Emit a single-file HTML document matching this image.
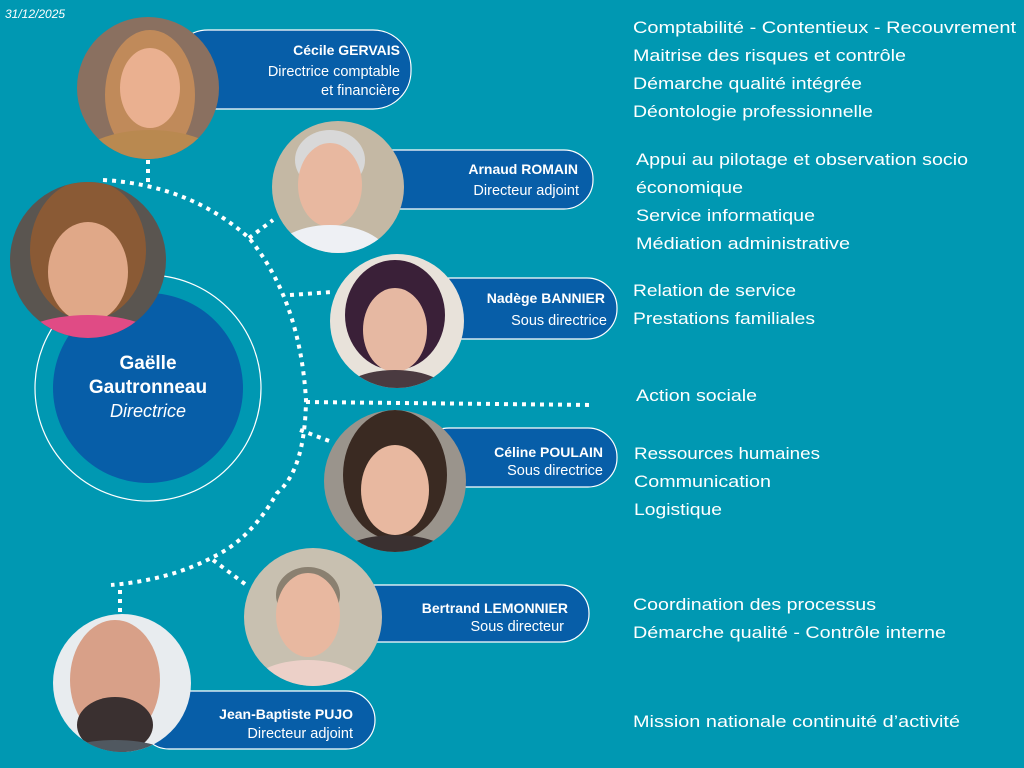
<!DOCTYPE html>
<html><head><meta charset="utf-8"><style>
html,body{margin:0;padding:0;background:#0098b2;}
svg{display:block;font-family:"Liberation Sans",sans-serif;}
.r{fill:#fff;font-size:17px;}
.n{fill:#fff;font-size:14px;font-weight:bold;}
.t{fill:#fff;font-size:14.5px;}
</style></head><body>
<svg width="1024" height="768" viewBox="0 0 1024 768" xmlns="http://www.w3.org/2000/svg">
<defs>
<clipPath id="c1"><circle cx="148" cy="88" r="71"/></clipPath>
<clipPath id="c2"><circle cx="338" cy="187" r="66"/></clipPath>
<clipPath id="c3"><circle cx="397" cy="321" r="67"/></clipPath>
<clipPath id="c4"><circle cx="395" cy="481" r="71"/></clipPath>
<clipPath id="c5"><circle cx="313" cy="617" r="69"/></clipPath>
<clipPath id="c6"><circle cx="122" cy="683" r="69"/></clipPath>
<clipPath id="c7"><circle cx="88" cy="260" r="78"/></clipPath>
</defs>
<rect width="1024" height="768" fill="#0098b2"/>
<text x="5" y="18" fill="#fff" font-size="12" font-style="italic">31/12/2025</text>

<!-- dotted connectors -->
<g fill="none" stroke="#fff" stroke-width="4" stroke-dasharray="4 5">
<path d="M103,180 Q190,185 249,238 Q300,300 306,400 Q305,470 277,493 Q250,540 213,557 Q170,580 111,585"/>
<path d="M148,160 L148,183"/>
<path d="M249,238 L273,220"/>
<path d="M290,295 L332,292"/>
<path d="M306,402 L593,405"/>
<path d="M300,430 L332,442"/>
<path d="M213,560 L249,587"/>
<path d="M120,590 L120,612"/>
</g>

<!-- Gaëlle -->
<circle cx="148" cy="388" r="113" fill="none" stroke="#fff" stroke-width="1.2"/>
<circle cx="148" cy="388" r="95" fill="#075ea8"/>
<text x="148" y="369" text-anchor="middle" fill="#fff" font-size="19" font-weight="bold">Gaëlle</text>
<text x="148" y="393" text-anchor="middle" fill="#fff" font-size="19" font-weight="bold">Gautronneau</text>
<text x="148" y="417" text-anchor="middle" fill="#fff" font-size="18" font-style="italic">Directrice</text>
<g clip-path="url(#c7)"><rect x="0" y="180" width="170" height="160" fill="#5a5550"/>
<ellipse cx="88" cy="250" rx="58" ry="70" fill="#8a5a35"/>
<ellipse cx="88" cy="272" rx="40" ry="50" fill="#e0a888"/>
<ellipse cx="88" cy="345" rx="75" ry="30" fill="#e04b85"/></g>

<!-- boxes -->
<g fill="#075ea8" stroke="#fff" stroke-width="1.2">
<rect x="170" y="30" width="241" height="79" rx="38"/>
<rect x="360" y="150" width="233" height="59" rx="29"/>
<rect x="420" y="278" width="197" height="61" rx="30"/>
<rect x="420" y="428" width="197" height="59" rx="29"/>
<rect x="330" y="585" width="259" height="57" rx="28"/>
<rect x="140" y="691" width="235" height="58" rx="29"/>
</g>

<!-- photos -->
<g clip-path="url(#c1)"><rect x="70" y="10" width="160" height="160" fill="#8a7060"/>
<ellipse cx="150" cy="95" rx="45" ry="65" fill="#c08a5a"/>
<ellipse cx="150" cy="88" rx="30" ry="40" fill="#eab090"/>
<ellipse cx="150" cy="170" rx="80" ry="40" fill="#b98950"/></g>
<g clip-path="url(#c2)"><rect x="270" y="120" width="140" height="140" fill="#c4b8a4"/>
<ellipse cx="330" cy="160" rx="35" ry="30" fill="#d8d8d8"/>
<ellipse cx="330" cy="185" rx="32" ry="42" fill="#e8b8a0"/>
<ellipse cx="330" cy="260" rx="60" ry="35" fill="#eef0f4"/></g>
<g clip-path="url(#c3)"><rect x="330" y="250" width="140" height="140" fill="#e8e2da"/>
<ellipse cx="395" cy="315" rx="50" ry="55" fill="#3a2038"/>
<ellipse cx="395" cy="330" rx="32" ry="42" fill="#e6b8a2"/>
<ellipse cx="395" cy="395" rx="55" ry="25" fill="#4a3a40"/></g>
<g clip-path="url(#c4)"><rect x="320" y="405" width="150" height="150" fill="#9a948c"/>
<ellipse cx="395" cy="475" rx="52" ry="65" fill="#3a2a22"/>
<ellipse cx="395" cy="490" rx="34" ry="45" fill="#e8b8a0"/>
<ellipse cx="395" cy="560" rx="60" ry="25" fill="#3a3030"/></g>
<g clip-path="url(#c5)"><rect x="240" y="545" width="150" height="150" fill="#c8c0b0"/>
<ellipse cx="308" cy="595" rx="32" ry="28" fill="#8a8070"/>
<ellipse cx="308" cy="615" rx="32" ry="42" fill="#e8b8a0"/>
<ellipse cx="308" cy="690" rx="60" ry="30" fill="#ecd0c8"/></g>
<g clip-path="url(#c6)"><rect x="50" y="610" width="150" height="150" fill="#e8ecef"/>
<ellipse cx="115" cy="680" rx="45" ry="60" fill="#d8a088"/>
<ellipse cx="115" cy="725" rx="38" ry="28" fill="#3a3030"/>
<ellipse cx="115" cy="760" rx="60" ry="20" fill="#505860"/></g>

<!-- names -->
<g text-anchor="end">
<text class="n" x="400" y="55">Cécile GERVAIS</text>
<text class="t" x="400" y="76">Directrice comptable</text>
<text class="t" x="400" y="95">et financière</text>
<text class="n" x="578" y="174">Arnaud ROMAIN</text>
<text class="t" x="579" y="195">Directeur adjoint</text>
<text class="n" x="605" y="303">Nadège BANNIER</text>
<text class="t" x="607" y="325">Sous directrice</text>
<text class="n" x="603" y="457">Céline POULAIN</text>
<text class="t" x="603" y="475">Sous directrice</text>
<text class="n" x="568" y="613">Bertrand LEMONNIER</text>
<text class="t" x="564" y="631">Sous directeur</text>
<text class="n" x="353" y="719">Jean-Baptiste PUJO</text>
<text class="t" x="353" y="738">Directeur adjoint</text>
</g>

<!-- right text -->
<text class="r" x="633" y="33" textLength="383" lengthAdjust="spacingAndGlyphs">Comptabilité - Contentieux - Recouvrement</text>
<text class="r" x="633" y="61" textLength="273" lengthAdjust="spacingAndGlyphs">Maitrise des risques et contrôle</text>
<text class="r" x="633" y="89" textLength="229" lengthAdjust="spacingAndGlyphs">Démarche qualité intégrée</text>
<text class="r" x="633" y="117" textLength="240" lengthAdjust="spacingAndGlyphs">Déontologie professionnelle</text>
<text class="r" x="636" y="165" textLength="332" lengthAdjust="spacingAndGlyphs">Appui au pilotage et observation socio</text>
<text class="r" x="636" y="193" textLength="107" lengthAdjust="spacingAndGlyphs">économique</text>
<text class="r" x="636" y="221" textLength="179" lengthAdjust="spacingAndGlyphs">Service informatique</text>
<text class="r" x="636" y="249" textLength="214" lengthAdjust="spacingAndGlyphs">Médiation administrative</text>
<text class="r" x="633" y="296" textLength="163" lengthAdjust="spacingAndGlyphs">Relation de service</text>
<text class="r" x="633" y="324" textLength="182" lengthAdjust="spacingAndGlyphs">Prestations familiales</text>
<text class="r" x="636" y="401" textLength="121" lengthAdjust="spacingAndGlyphs">Action sociale</text>
<text class="r" x="634" y="459" textLength="186" lengthAdjust="spacingAndGlyphs">Ressources humaines</text>
<text class="r" x="634" y="487" textLength="137" lengthAdjust="spacingAndGlyphs">Communication</text>
<text class="r" x="634" y="515" textLength="88" lengthAdjust="spacingAndGlyphs">Logistique</text>
<text class="r" x="633" y="610" textLength="243" lengthAdjust="spacingAndGlyphs">Coordination des processus</text>
<text class="r" x="633" y="638" textLength="313" lengthAdjust="spacingAndGlyphs">Démarche qualité - Contrôle interne</text>
<text class="r" x="633" y="727" textLength="327" lengthAdjust="spacingAndGlyphs">Mission nationale continuité d’activité</text>
</svg>
</body></html>
